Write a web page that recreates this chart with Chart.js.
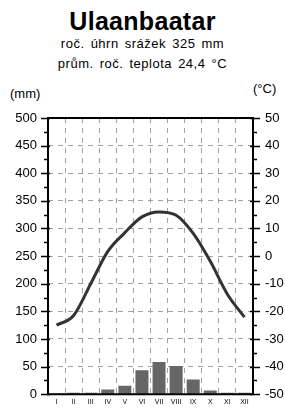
<!DOCTYPE html>
<html>
<head>
<meta charset="utf-8">
<script src="https://cdn.jsdelivr.net/npm/chart.js@4"></script>
<style>
  html, body { margin: 0; padding: 0; background: #fff; overflow: hidden; }
  body { width: 285px; height: 414px; position: relative; font-family: "Liberation Sans", Arial, sans-serif; color: #000; }
  .t { position: absolute; left: 0; width: 285px; text-align: center; white-space: nowrap; }
  #title { top: 7px; font-size: 25px; font-weight: bold; letter-spacing: 0.3px; }
  #sub1 { top: 36px; font-size: 13px; letter-spacing: 0.5px; word-spacing: 2px; }
  #sub2 { top: 56px; font-size: 13px; letter-spacing: 0.5px; word-spacing: 2px; }
  #mmLab { position: absolute; left: 10px; top: 86px; font-size: 13px; }
  #cLab { position: absolute; left: 253px; top: 81px; font-size: 13px; }
  #wrap { position: absolute; left: 0; top: 0; width: 300px; height: 414px; }
</style>
</head>
<body>
<div id="title" class="t">Ulaanbaatar</div>
<div id="sub1" class="t">roč. úhrn srážek 325 mm</div>
<div id="sub2" class="t">prům. roč. teplota 24,4 °C</div>
<div id="mmLab">(mm)</div>
<div id="cLab">(°C)</div>
<div id="wrap"><canvas id="myChart"></canvas></div>
<script>
// months (roman numerals) and monthly values
var months = ['I', 'II', 'III', 'IV', 'V', 'VI', 'VII', 'VIII', 'IX', 'X', 'XI', 'XII'];
var srazky = [0.5, 2.5, 2.5, 8.5, 15.5, 43.5, 58.5, 51, 26.5, 6.5, 2.5, 2.5];   // mm
var teplota = [-25, -21.5, -10, 1.7, 8.5, 14.2, 16, 14.8, 8.2, -1.9, -13.8, -22.1]; // °C

var FONT = '"Liberation Sans", Arial, sans-serif';

// frame + tick marks on both vertical axes
const axisPlugin = {
    id: 'axisPlugin',
    afterDraw: function(chart) {
        var ctx = chart.ctx;
        var a = chart.chartArea;
        var y = chart.scales.y, y1 = chart.scales.y1;
        ctx.save();
        ctx.strokeStyle = '#000';
        ctx.lineWidth = 2;
        ctx.setLineDash([]);
        ctx.beginPath();
        ctx.moveTo(a.left, a.top); ctx.lineTo(a.right, a.top);
        ctx.moveTo(a.left, a.top - 1); ctx.lineTo(a.left, a.bottom + 1);
        ctx.moveTo(a.right, a.top - 1); ctx.lineTo(a.right, a.bottom + 1);
        ctx.moveTo(a.left, a.bottom); ctx.lineTo(a.right, a.bottom);
        ctx.stroke();
        ctx.lineWidth = 1.5;
        ctx.beginPath();
        for (var v = 0; v <= 500; v += 25) {
            var py = Math.round(y.getPixelForValue(v)) + 0.5;
            var big = v % 50 === 0;
            ctx.moveTo(a.left - (big ? 7 : 4), py);
            ctx.lineTo(a.left + (big ? 2 : 0), py);
        }
        for (var t = -50; t <= 50; t += 5) {
            var py2 = Math.round(y1.getPixelForValue(t)) + 0.5;
            var big2 = t % 10 === 0;
            ctx.moveTo(a.right - (big2 ? 3 : 0), py2);
            ctx.lineTo(a.right + (big2 ? 7 : 4), py2);
        }
        ctx.stroke();
        ctx.restore();
    }
};

const data = {
    labels: months,
    datasets: [{
        type: 'line',
        data: teplota,
        yAxisID: 'y1',
        borderColor: '#333',
        borderWidth: 3,
        pointRadius: 0,
        cubicInterpolationMode: 'monotone',
        order: 0
    },
    {
        type: 'bar',
        data: srazky,
        yAxisID: 'y',
        backgroundColor: '#666',
        borderWidth: 0,
        barPercentage: 0.76,
        categoryPercentage: 1,
        order: 1
    }]
};

const config = {
    data: data,
    plugins: [axisPlugin],
    options: {
        responsive: false,
        animation: false,
        devicePixelRatio: 1,
        layout: { padding: { top: 118, left: 0, right: 0, bottom: 0 } },
        plugins: { legend: { display: false }, tooltip: { enabled: false } },
        scales: {
            x: {
                offset: true,
                grid: { offset: true, color: '#a0a0a0', lineWidth: 1, drawTicks: false },
                border: { display: false, dash: [5, 5] },
                ticks: { font: { family: FONT, size: 7 }, color: '#000', padding: 4, maxRotation: 0, autoSkip: false },
                afterFit: function(s) { s.height = 16; }
            },
            y: {
                position: 'left',
                min: 0, max: 500,
                ticks: { stepSize: 50, font: { family: FONT, size: 13 }, color: '#000', padding: 11 },
                grid: { color: '#a0a0a0', lineWidth: 1, drawTicks: false },
                border: { display: false, dash: [5, 5] },
                afterFit: function(s) { s.width = 48; }
            },
            y1: {
                position: 'right',
                min: -50, max: 50,
                ticks: { stepSize: 10, font: { family: FONT, size: 13 }, color: '#000', padding: 12 },
                grid: { display: false, drawTicks: false },
                border: { display: false },
                afterFit: function(s) { s.width = 47; }
            }
        }
    }
};

var cv = document.getElementById('myChart');
cv.width = 300;
cv.height = 414;
const myChart = new Chart(cv, config);
</script>
</body>
</html>
